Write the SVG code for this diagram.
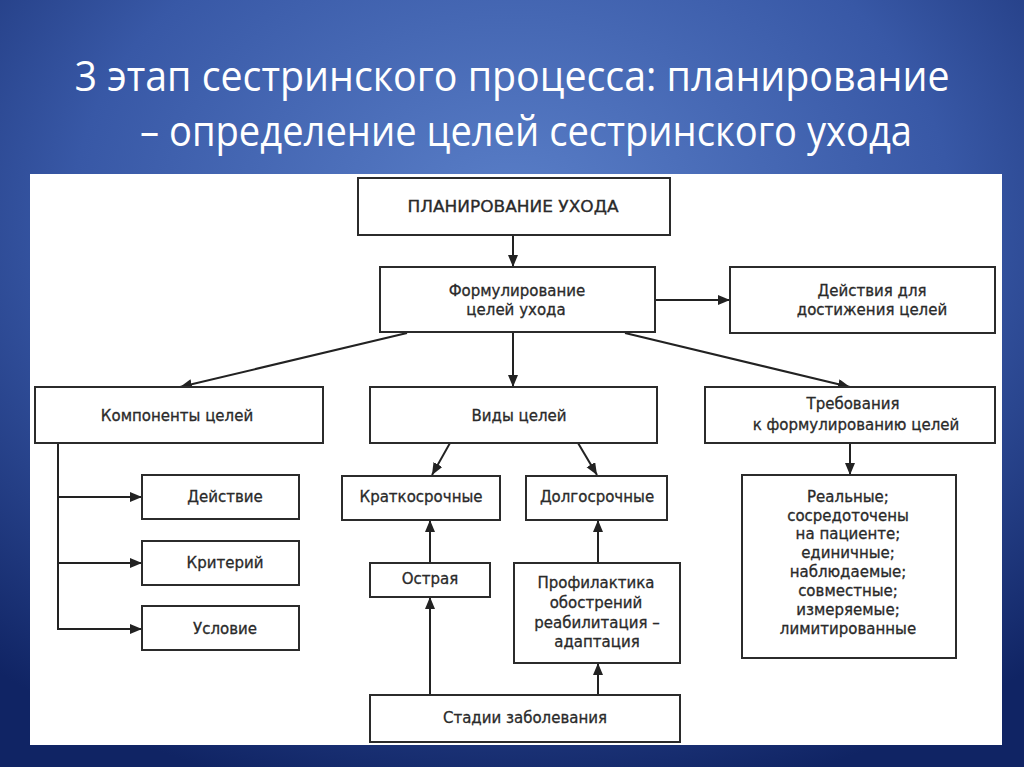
<svg xmlns="http://www.w3.org/2000/svg" width="1024" height="767" viewBox="0 0 1024 767">
  <defs>
    <radialGradient id="bg" cx="50%" cy="28%" r="78%">
      <stop offset="0" stop-color="#5a7fc8"/>
      <stop offset="0.55" stop-color="#3858a6"/>
      <stop offset="1" stop-color="#102464"/>
    </radialGradient>
    <marker id="ah" markerUnits="userSpaceOnUse" markerWidth="13" markerHeight="11" refX="12" refY="5" orient="auto">
      <path d="M0,0 L12,5 L0,10 z" fill="#222"/>
    </marker>
    <style>
      .box { fill: #ffffff; stroke: #2b2b2b; stroke-width: 2; }
      .t { font-family: "DejaVu Sans", "Liberation Sans", sans-serif; font-size: 15px; fill: #2a2a2a; stroke: #2a2a2a; stroke-width: 0.3; text-anchor: middle; }
      .title { font-family: "Open Sans", "Liberation Sans", sans-serif; font-size: 42px; fill: #ffffff; text-anchor: middle; }
      .c { stroke: #222; stroke-width: 2; fill: none; }
    </style>
  </defs>
  <rect x="0" y="0" width="1024" height="767" fill="url(#bg)"/>
  <g id="title">
    <text class="title" x="512" y="91" textLength="875" lengthAdjust="spacingAndGlyphs">3 этап сестринского процесса: планирование</text>
    <text class="title" x="526" y="146" textLength="772" lengthAdjust="spacingAndGlyphs">– определение целей сестринского ухода</text>
  </g>
  <rect x="30" y="174" width="972" height="571" fill="#ffffff"/>

  <g id="connectors">
    <line class="c" x1="513" y1="235" x2="513" y2="267" marker-end="url(#ah)"/>
    <line class="c" x1="655" y1="300" x2="730" y2="300" marker-end="url(#ah)"/>
    <line class="c" x1="407" y1="333" x2="180" y2="387" marker-end="url(#ah)"/>
    <line class="c" x1="513" y1="332" x2="513" y2="387" marker-end="url(#ah)"/>
    <line class="c" x1="625" y1="333" x2="850" y2="387" marker-end="url(#ah)"/>
    <line class="c" x1="450" y1="443" x2="432" y2="475" marker-end="url(#ah)"/>
    <line class="c" x1="578" y1="443" x2="597" y2="475" marker-end="url(#ah)"/>
    <line class="c" x1="850" y1="443" x2="850" y2="475" marker-end="url(#ah)"/>
    <line class="c" x1="58" y1="443" x2="58" y2="630"/>
    <line class="c" x1="57" y1="497" x2="142" y2="497" marker-end="url(#ah)"/>
    <line class="c" x1="57" y1="563" x2="142" y2="563" marker-end="url(#ah)"/>
    <line class="c" x1="57" y1="629" x2="142" y2="629" marker-end="url(#ah)"/>
    <line class="c" x1="430" y1="563" x2="430" y2="520" marker-end="url(#ah)"/>
    <line class="c" x1="430" y1="695" x2="430" y2="597" marker-end="url(#ah)"/>
    <line class="c" x1="598" y1="563" x2="598" y2="520" marker-end="url(#ah)"/>
    <line class="c" x1="598" y1="695" x2="598" y2="663" marker-end="url(#ah)"/>
  </g>

  <g id="n-plan">
    <rect class="box" x="358" y="178" width="312" height="57"/>
    <text class="t" x="513" y="212" textLength="211" lengthAdjust="spacingAndGlyphs">ПЛАНИРОВАНИЕ УХОДА</text>
  </g>
  <g id="n-form">
    <rect class="box" x="380" y="267" width="275" height="65"/>
    <text class="t" x="517" y="296">Формулирование</text>
    <text class="t" x="516" y="315">целей ухода</text>
  </g>
  <g id="n-actions">
    <rect class="box" x="730" y="267" width="265" height="66"/>
    <text class="t" x="872" y="296">Действия для</text>
    <text class="t" x="872" y="315">достижения целей</text>
  </g>
  <g id="n-components">
    <rect class="box" x="35" y="387" width="288" height="56"/>
    <text class="t" x="177" y="421">Компоненты целей</text>
  </g>
  <g id="n-types">
    <rect class="box" x="370" y="387" width="287" height="56"/>
    <text class="t" x="519" y="421">Виды целей</text>
  </g>
  <g id="n-req">
    <rect class="box" x="705" y="387" width="290" height="56"/>
    <text class="t" x="853" y="409">Требования</text>
    <text class="t" x="856" y="430">к формулированию целей</text>
  </g>
  <g id="n-action">
    <rect class="box" x="142" y="475" width="157" height="44"/>
    <text class="t" x="225" y="502">Действие</text>
  </g>
  <g id="n-criterion">
    <rect class="box" x="142" y="541" width="157" height="44"/>
    <text class="t" x="225" y="568">Критерий</text>
  </g>
  <g id="n-condition">
    <rect class="box" x="142" y="606" width="157" height="44"/>
    <text class="t" x="225" y="634">Условие</text>
  </g>
  <g id="n-short">
    <rect class="box" x="342" y="476" width="158" height="44"/>
    <text class="t" x="421" y="502">Краткосрочные</text>
  </g>
  <g id="n-long">
    <rect class="box" x="526" y="476" width="141" height="44"/>
    <text class="t" x="597" y="502">Долгосрочные</text>
  </g>
  <g id="n-acute">
    <rect class="box" x="370" y="563" width="120" height="34"/>
    <text class="t" x="430" y="584">Острая</text>
  </g>
  <g id="n-prof">
    <rect class="box" x="514" y="563" width="166" height="100"/>
    <text class="t" x="596" y="588">Профилактика</text>
    <text class="t" x="596" y="608">обострений</text>
    <text class="t" x="597" y="628">реабилитация –</text>
    <text class="t" x="597" y="647">адаптация</text>
  </g>
  <g id="n-stages">
    <rect class="box" x="370" y="695" width="310" height="47"/>
    <text class="t" x="525" y="723">Стадии заболевания</text>
  </g>
  <g id="n-realistic">
    <rect class="box" x="742" y="475" width="214" height="183"/>
    <text class="t" x="848" y="502">Реальные;</text>
    <text class="t" x="848" y="521">сосредоточены</text>
    <text class="t" x="848" y="539">на пациенте;</text>
    <text class="t" x="848" y="558">единичные;</text>
    <text class="t" x="848" y="577">наблюдаемые;</text>
    <text class="t" x="848" y="596">совместные;</text>
    <text class="t" x="848" y="615">измеряемые;</text>
    <text class="t" x="848" y="634">лимитированные</text>
  </g>
</svg>
